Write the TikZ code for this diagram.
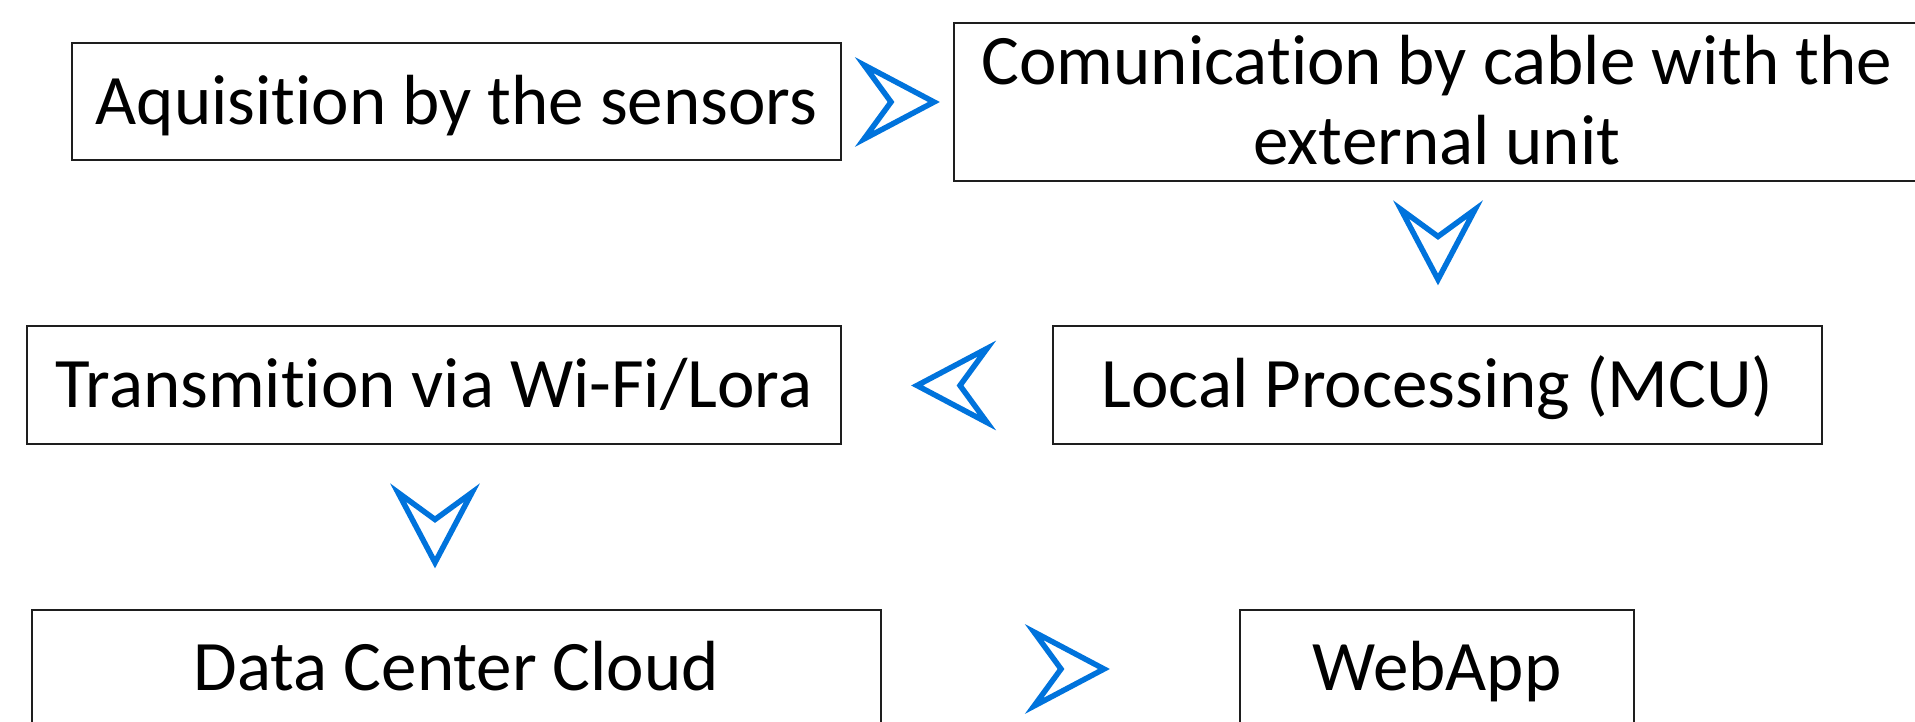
\documentclass[tikz,border=0pt]{standalone}
\usepackage{fontspec}
\setmainfont{Carlito}[Ligatures=NoCommon]
\definecolor{flowblue}{RGB}{0,115,220}
\definecolor{boxline}{RGB}{30,30,30}
\tikzset{
  stagebox/.style={draw=boxline, line width=2pt, rectangle, inner sep=0pt,
    font=\fontsize{71}{80}\selectfont, text height=45.5pt, text depth=0pt},
  chevron/.pic={
    \draw[flowblue, line width=5.5pt, fill=white]
      (-35,-37) -- (35,0) -- (-35,37) -- (-8,0) -- cycle;
  }
}
\begin{document}
\begin{tikzpicture}[x=1pt, y=-1pt]
  \useasboundingbox (0,0) rectangle (1915,722);
  % process stages
  \node[stagebox, minimum width=769, minimum height=117] (acq) at (456.5,101.5)
    {Aquisition by the sensors};
  \node[stagebox, minimum width=966, minimum height=158, align=center,
        text height=125.5pt] (cable) at (1437,102)
    {Comunication by cable with the\\external unit};
  \node[stagebox, minimum width=769, minimum height=118] (mcu) at (1437.5,385)
    {Local Processing (MCU)};
  \node[stagebox, minimum width=814, minimum height=118] (tx) at (434,385)
    {Transmition via Wi-Fi/Lora};
  \node[stagebox, minimum width=849, minimum height=115] (cloud) at (456.5,667.5)
    {Data Center Cloud};
  \node[stagebox, minimum width=394, minimum height=115] (web) at (1437,667.5)
    {WebApp};
  % flow direction markers
  \coordinate (c1) at (899,102);
  \coordinate (c2) at (1438,244.5);
  \coordinate (c3) at (952,385.5);
  \coordinate (c4) at (435,527.5);
  \coordinate (c5) at (1069,669);
  \pic at (c1) {chevron};
  \pic[rotate=-90] at (c2) {chevron};
  \pic[rotate=180] at (c3) {chevron};
  \pic[rotate=-90] at (c4) {chevron};
  \pic at (c5) {chevron};
\end{tikzpicture}
\end{document}
